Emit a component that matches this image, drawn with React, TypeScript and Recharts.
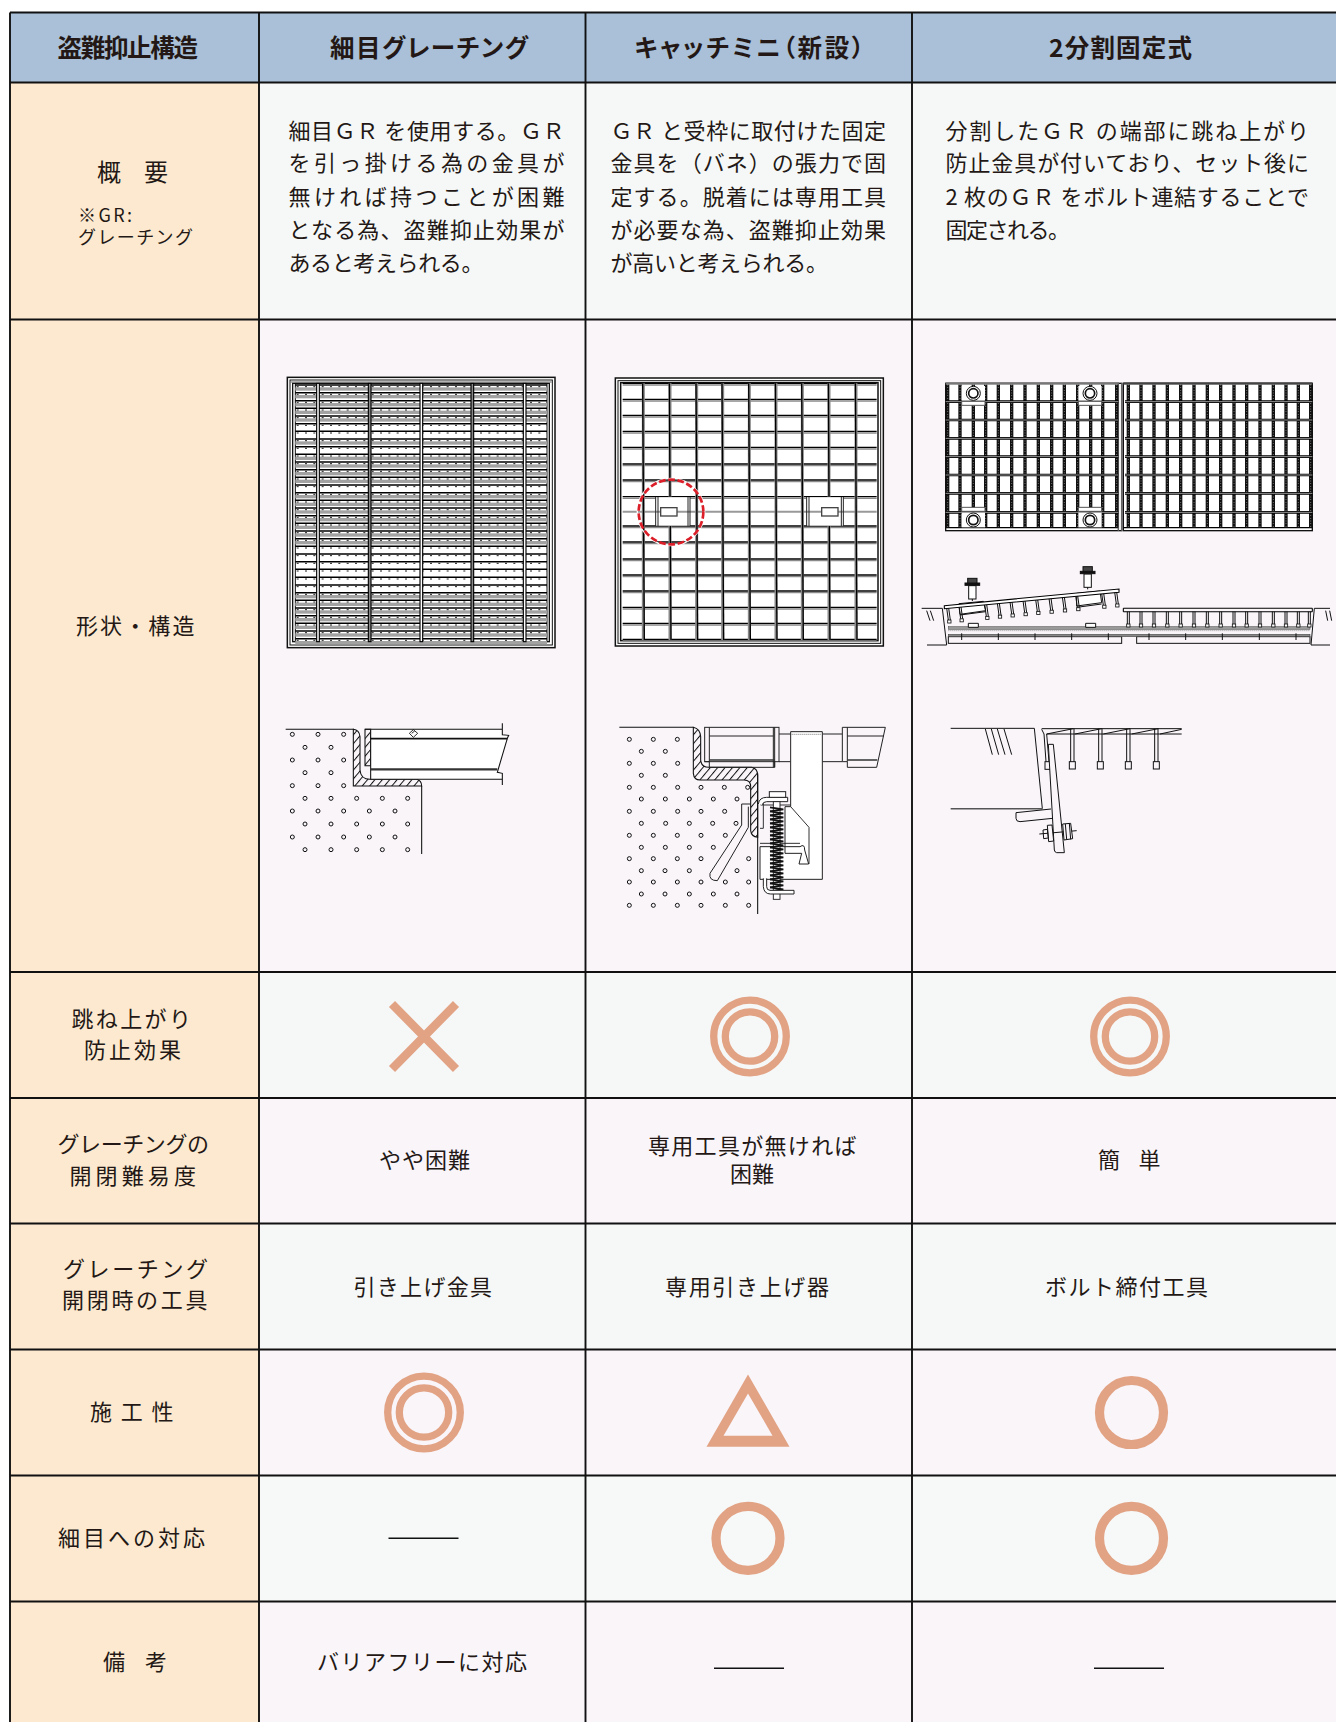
import React from "react";
import { ScatterChart, Scatter, XAxis, YAxis, ReferenceArea, ReferenceLine } from "recharts";

// ---------- content ----------
const headers = ["盗難抑止構造", "細目グレーチング", "キャッチミニ（新設）", "2分割固定式"];
const rowLabels = [
  ["概　要"],
  ["※GR:", "グレーチング"],
  ["形状・構造"],
  ["跳ね上がり", "防止効果"],
  ["グレーチングの", "開閉難易度"],
  ["グレーチング", "開閉時の工具"],
  ["施 工 性"],
  ["細目への対応"],
  ["備　考"],
];
const overviewFine = [
  "細目ＧＲ を使用する。ＧＲ",
  "を引っ掛ける為の金具が",
  "無ければ持つことが困難",
  "となる為、盗難抑止効果が",
  "あると考えられる。",
];
const overviewCatch = [
  "ＧＲ と受枠に取付けた固定",
  "金具を（バネ）の張力で固",
  "定する。脱着には専用工具",
  "が必要な為、盗難抑止効果",
  "が高いと考えられる。",
];
const overviewSplit = [
  "分割したＧＲ の端部に跳ね上がり",
  "防止金具が付いており、セット後に",
  "2 枚のＧＲ をボルト連結することで",
  "固定される。",
];
const openingEase = ["やや困難", "専用工具が無ければ", "困難", "簡　単"];
const openingTool = ["引き上げ金具", "専用引き上げ器", "ボルト締付工具"];
const remark = "バリアフリーに対応";
// grades, one row per criterion, one entry per product
const gradeBounce = ["cross", "double", "double"];
const gradeWork = ["double", "triangle", "circle"];
const gradeFine = ["dash", "circle", "circle"];
const gradeRemark = ["text", "dash", "dash"];

// ---------- layout ----------
const W = 1336;
const H = 1722;
const colEdges = [10, 259, 585.5, 912, 1336];
const rowEdges = [12.5, 82.5, 319.5, 972, 1098, 1223.5, 1349.5, 1475.5, 1601.5, 1722];
const rowFills = ["#F6F8F7", "#F9F5F9", "#F6F8F7", "#F9F5F9", "#F6F8F7", "#F9F5F9", "#F6F9F8", "#F9F5F9"];
const HEAD = "#A9C0D8";
const LABEL = "#FCE9CF";
const INK = "#231815";
const SALMON = "#E2A284";
const FONT = '"Noto Sans CJK JP", "Noto Sans", sans-serif';
const TEXT_LIFT = 2.4;

type T = { x: number; y: number; text: string; left: number; right: number; size: number; weight: number };
const texts: T[] = [];
const put = (text: string, left: number, right: number, y: number, size = 22, weight = 400) =>
  texts.push({ x: (left + right) / 2, y: y - TEXT_LIFT, text, left, right, size, weight });

// headers
put(headers[0], 57.5, 198, 49, 24.5, 700);
put(headers[1], 330, 528, 49, 24.5, 700);
put(headers[2], 634.5, 864, 49, 24.5, 700);
put(headers[3], 1049, 1192, 49, 24.5, 700);
// row labels
put(rowLabels[0][0], 97, 168, 172.5, 24);
put(rowLabels[1][0], 78, 132, 216.5, 18);
put(rowLabels[1][1], 78, 193, 238.5, 18);
put(rowLabels[2][0], 76, 194.5, 626);
put(rowLabels[3][0], 71.5, 191, 1019.5);
put(rowLabels[3][1], 84, 181, 1050);
put(rowLabels[4][0], 57.5, 209, 1144.5);
put(rowLabels[4][1], 69.5, 196, 1176);
put(rowLabels[5][0], 63, 208, 1269.5);
put(rowLabels[5][1], 62, 207.5, 1300);
put(rowLabels[6][0], 90, 173.5, 1412);
put(rowLabels[7][0], 58, 205, 1538);
put(rowLabels[8][0], 103, 167, 1662.5);
// overview paragraphs
const lineY = [131, 163.5, 197, 230, 263.5];
const fineRight = [564.5, 564.5, 564.5, 564.5, 483.5];
overviewFine.forEach((s, i) => put(s, 288.5, fineRight[i], lineY[i]));
const catchRight = [886, 886, 886, 886, 828];
overviewCatch.forEach((s, i) => put(s, 610.5, catchRight[i], lineY[i]));
const splitRight = [1309, 1309, 1309, 1070];
overviewSplit.forEach((s, i) => put(s, 945.5, splitRight[i], lineY[i]));
// lower cells
put(openingEase[0], 379, 470, 1160.5);
put(openingEase[1], 648, 856.5, 1146);
put(openingEase[2], 730, 774, 1174);
put(openingEase[3], 1098, 1160.5, 1160.5);
put(openingTool[0], 353.5, 492, 1287);
put(openingTool[1], 665, 829, 1287);
put(openingTool[2], 1045, 1208, 1287);
put(remark, 317, 527, 1662.5);

const marks = [
  { kind: gradeBounce[0], x: 424, y: 1036.5 },
  { kind: gradeBounce[1], x: 750, y: 1036.5 },
  { kind: gradeBounce[2], x: 1130, y: 1036.5 },
  { kind: gradeWork[0], x: 424, y: 1412.5 },
  { kind: gradeWork[1], x: 748, y: 1412.5 },
  { kind: gradeWork[2], x: 1131.5, y: 1412.5 },
  { kind: gradeFine[0], x: 423.5, y: 1538.3 },
  { kind: gradeFine[1], x: 748, y: 1538.3 },
  { kind: gradeFine[2], x: 1131.5, y: 1538.3 },
  { kind: gradeRemark[1], x: 749, y: 1668.3 },
  { kind: gradeRemark[2], x: 1129, y: 1668.3 },
];

const drawings = [
  { kind: "fine", x: 270, y: 360 },
  { kind: "catch", x: 600, y: 360 },
  { kind: "split", x: 915, y: 370 },
  { kind: "sec1", x: 270, y: 710 },
  { kind: "sec2", x: 610, y: 710 },
  { kind: "sec3", x: 940, y: 710 },
];

// ---------- drawing geometry (units: 1/3 px, relative to each drawing's anchor) ----------
const fineRows = [75, 98, 122, 145, 168, 191, 214, 237, 260, 283, 306, 329, 352, 375, 398, 421, 444, 467, 490, 513, 536, 559, 582, 605, 628, 652, 675, 698, 721, 744, 767, 790, 813, 836];
const fineGrey = [0, 1, 2, 3, 4, 7, 9, 10, 11, 12, 14, 15, 16, 17, 18, 19, 20, 27, 28, 29, 30, 31, 32, 33];
const fineBars = [140, 295, 450, 603, 760];
const catchRows = [70, 118, 166, 214, 262, 312, 360, 410, 498, 546, 597, 645, 693, 742, 790, 838];
const catchBars = [130, 210, 290, 368, 448, 528, 607, 687, 768];
const splitRows = [95, 150, 205, 260, 315, 370, 427];
const splitBarsL = [98, 135, 175, 212, 250, 290, 330, 370, 410, 448, 488, 527, 563, 605];
const splitBarsR = [640, 678, 717, 757, 797, 837, 877, 917, 957, 995, 1035, 1075, 1113, 1150, 1187];
const tiltLegs = [98, 135, 212, 250, 288, 327, 365, 405, 445, 485, 563, 602];
const flatLegs = [640, 678, 717, 757, 797, 837, 877, 917, 957, 995, 1035, 1075, 1113, 1150, 1183];
const railTicks = [140, 250, 360, 470, 580, 702, 812, 922, 1033, 1143];
const sec1Dots: [number, number[]][] = [
  [73, [67, 144, 221]],
  [112, [105, 183]],
  [150, [67, 144, 221]],
  [188, [105, 183]],
  [227, [67, 144, 221]],
  [265, [105, 183, 260, 337, 413]],
  [303, [67, 144, 221, 298, 375]],
  [342, [105, 183, 260, 337, 413]],
  [381, [67, 144, 221, 298, 375]],
  [419, [105, 183, 260, 337, 413]],
];
const sec2Dots: [number, number[]][] = [
  [88, [58, 130, 202]],
  [124, [94, 166]],
  [160, [58, 130, 203]],
  [196, [94, 166]],
  [232, [58, 130, 203, 273, 343, 413]],
  [267, [94, 166, 238, 310, 381]],
  [304, [58, 130, 203, 273, 344]],
  [340, [94, 167, 238, 308, 378]],
  [376, [58, 130, 202, 273, 346]],
  [412, [94, 166, 238, 310]],
  [446, [58, 130, 202, 273, 416]],
  [482, [94, 165, 238, 381]],
  [516, [58, 130, 202, 273, 346, 416]],
  [552, [94, 165, 238, 310, 381]],
  [586, [58, 130, 202, 273, 346, 416]],
];
const springY = [292, 304, 316, 328, 340, 352, 364, 376, 388, 400, 412, 424, 436, 448, 460, 472, 484, 496, 508, 520, 532];
const sec3Legs = [397, 481, 565, 649];

const line = "#111";
const Dots = ({ rows }: { rows: [number, number[]][] }) => (
  <g fill="none" stroke="#111" strokeWidth={3}>
    {rows.map(([y, xs]) => xs.map((x) => <circle key={`${x}-${y}`} cx={x} cy={y} r={6} />))}
  </g>
);
const HatchDef = ({ id }: { id: string }) => (
  <defs>
    <pattern id={id} width={17} height={17} patternUnits="userSpaceOnUse" patternTransform="rotate(40)">
      <line x1={1.5} y1={0} x2={1.5} y2={17} stroke="#111" strokeWidth={3} />
    </pattern>
  </defs>
);

const Fine = () => (
  <g>
    <rect x={52} y={52} width={803} height={811} fill="#fff" stroke={line} strokeWidth={4.5} />
    <rect x={60} y={60} width={787} height={795} fill="none" stroke={line} strokeWidth={3} />
    <rect x={68} y={70} width={770} height={775} fill="none" stroke={line} strokeWidth={4} />
    <rect x={76} y={70} width={755} height={775} fill="none" stroke={line} strokeWidth={3} />
    {fineGrey.map((i) => <rect key={i} x={76} y={fineRows[i] + 7} width={755} height={10} fill="#a2a2a2" />)}
    {fineRows.map((y) => (
      <g key={y}>
        <line x1={76} x2={831} y1={y} y2={y} stroke="#000" strokeWidth={4.4} />
        <line x1={80} x2={831} y1={y + 5} y2={y + 5} stroke="#222" strokeWidth={3} strokeDasharray="6 19" />
      </g>
    ))}
    {fineBars.map((x, i) => (
      <rect key={x} x={x} y={70} width={8} height={775} fill={i % 2 ? "#888" : "#fff"} stroke="#000" strokeWidth={3.4} />
    ))}
    <line x1={62} x2={845} y1={66} y2={66} stroke="#666" strokeWidth={3} />
  </g>
);

const Catch = () => (
  <g>
    <rect x={46} y={54} width={804} height={804} fill="#fff" stroke={line} strokeWidth={4.5} />
    <rect x={54} y={62} width={788} height={788} fill="none" stroke={line} strokeWidth={3} />
    <rect x={62} y={68} width={772} height={774} fill="none" stroke={line} strokeWidth={4.5} />
    {catchRows.map((y) => (
      <g key={y}>
        <line x1={68} x2={830} y1={y + 5} y2={y + 5} stroke="#8a8a8a" strokeWidth={4} />
        <line x1={68} x2={830} y1={y} y2={y} stroke="#000" strokeWidth={4} />
      </g>
    ))}
    <line x1={68} x2={830} y1={455} y2={455} stroke="#999" strokeWidth={6} />
    {catchBars.map((x) => {
      const gap = x === 210 || x === 687;
      return (
        <g key={x}>
          {gap ? (
            <>
              <path d={`M${x},70 V410 M${x},498 V840`} stroke="#888" strokeWidth={9} />
              <path d={`M${x - 2},70 L${x},410 M${x + 1},498 L${x + 3},840`} stroke="#000" strokeWidth={4} />
            </>
          ) : (
            <>
              <line x1={x} x2={x} y1={70} y2={840} stroke="#888" strokeWidth={9} />
              <line x1={x - 2} x2={x + 3} y1={70} y2={840} stroke="#000" strokeWidth={4} />
            </>
          )}
        </g>
      );
    })}
    {[{ l: 167, r: 270, s: 182 }, { l: 620, r: 730, s: 665 }].map(({ l, r, s }) => (
      <g key={l}>
        <rect x={l} y={412} width={r - l} height={85} fill="#fff" />
        <line x1={l} x2={r} y1={455} y2={455} stroke="#999" strokeWidth={6} />
        <path d={`M${l},411 V498 M${l + 7},411 V498 M${r - 6},411 V498 M${r},411 V498`} stroke="#222" strokeWidth={3} />
        <rect x={s} y={443} width={49} height={25} fill="#fff" stroke="#444" strokeWidth={4} />
      </g>
    ))}
    <circle cx={213} cy={456} r={101} fill="none" stroke="#fff" strokeWidth={4} />
    <circle cx={213} cy={456} r={97} fill="none" stroke="#DC1E28" strokeWidth={8} strokeDasharray="20 8" />
  </g>
);

const Bolt = ({ cx, top }: { cx: number; top: number }) => (
  <g stroke="#111" fill="#fff" strokeWidth={3}>
    <rect x={cx - 11} y={top + 22} width={22} height={40} />
    <line x1={cx} x2={cx} y1={top + 62} y2={top + 68} />
    <rect x={cx - 14} y={top} width={28} height={16} fill="#444" />
    <rect x={cx - 22} y={top + 14} width={44} height={7} fill="#111" />
  </g>
);

const Split = () => {
  const tilt = (x: number) => 707 - 0.0954 * (x - 88);
  return (
    <g>
      {/* plan */}
      <rect x={92} y={40} width={528} height={442} fill="#fff" stroke={line} strokeWidth={4} />
      <rect x={625} y={40} width={567} height={442} fill="#fff" stroke={line} strokeWidth={4} />
      <rect x={92} y={37} width={520} height={7} fill="#777" />
      <rect x={625} y={37} width={567} height={7} fill="#444" />
      <path d="M92,473 H610 M625,473 H1192" stroke="#000" strokeWidth={3.5} />
      <path d="M610,40 V482 M620,40 V482" stroke="#666" strokeWidth={4.5} />
      {splitBarsL.concat(splitBarsR).map((x) => (
        <g key={x}>
          <line x1={x} x2={x} y1={44} y2={473} stroke="#111" strokeWidth={10} />
          <line x1={x} x2={x} y1={44} y2={473} stroke="#fff" strokeWidth={1.8} strokeDasharray="2 6" />
        </g>
      ))}
      {splitRows.map((y) => (
        <g key={y}>
          <path d={`M92,${y} H610 M630,${y} H1192`} stroke="#000" strokeWidth={8} />
          <path d={`M92,${y} H610 M630,${y} H1192`} stroke="#fff" strokeWidth={1.8} />
        </g>
      ))}
      {[{ x: 175, y: 70, b: 100 }, { x: 525, y: 70, b: 100 }, { x: 175, y: 450, b: 418 }, { x: 525, y: 450, b: 418 }].map((p) => (
        <g key={`${p.x}${p.y}`}>
          <rect x={p.x - 35} y={p.y - 22} width={70} height={44} fill="#fff" />
          <rect x={p.x - 35} y={p.b - 6} width={70} height={12} fill="#fff" stroke="#555" strokeWidth={3} />
          <circle cx={p.x} cy={p.y} r={21} fill="#fff" stroke="#111" strokeWidth={3} />
          <circle cx={p.x} cy={p.y} r={14} fill="#fff" stroke="#111" strokeWidth={5} />
        </g>
      ))}
      {/* elevation */}
      <g fill="none" stroke="#111" strokeWidth={3}>
        <path d="M20,715 H82 L95,825 H36 M35,722 L45,752 M46,722 L56,752" />
        <path d="M1245,715 H1198 L1188,825 H1245 M1232,722 L1238,752 M1244,722 L1250,752" />
        <rect x={100} y={800} width={520} height={20} />
        <rect x={665} y={800} width={520} height={20} />
      </g>
      <rect x={100} y={770} width={1085} height={8} fill="#999" stroke="#444" strokeWidth={1.5} />
      <rect x={100} y={793} width={1085} height={7} fill="#888" stroke="#333" strokeWidth={1.5} />
      <path d="M100,782 H1185" stroke="#666" strokeWidth={2} strokeDasharray="3 3" />
      {railTicks.map((x) => <line key={x} x1={x} x2={x} y1={790} y2={810} stroke="#111" strokeWidth={3} />)}
      <path d="M160,760 H190 V772 H160 Z M512,760 H542 V772 H512 Z" fill="#fff" stroke="#111" strokeWidth={3} />
      {flatLegs.map((x) => (
        <g key={x}>
          <path d={`M${x - 3},725 V762 M${x + 3},725 V762`} stroke="#111" strokeWidth={3} />
          <rect x={x - 5} y={762} width={10} height={9} fill="#fff" stroke="#111" strokeWidth={2.5} />
        </g>
      ))}
      <path d="M625,715 H1192 M625,725 H1192 M1192,715 V725 M625,715 V725" stroke="#000" strokeWidth={3.2} fill="none" />
      <path d="M132,701 L205,694 L212,722 L135,733 Z M485,670 L555,663 L560,698 L485,708 Z" fill="#fff" stroke="#111" strokeWidth={3} />
      <path d="M135,735 L212,725 M485,712 L560,702" stroke="#111" strokeWidth={3} />
      {tiltLegs.map((x) => {
        const t = tilt(x) + 8;
        return (
          <g key={x}>
            <path d={`M${x - 3},${t} L${x + 2},${t + 36} M${x + 3},${t} L${x + 8},${t + 36}`} stroke="#111" strokeWidth={3} />
            <rect x={x} y={t + 36} width={10} height={9} fill="#fff" stroke="#111" strokeWidth={2.5} />
          </g>
        );
      })}
      <path d={`M88,707 L612,${tilt(612)} L612,${tilt(612) + 10} L88,${707 + 9} Z`} fill="#fff" stroke="#000" strokeWidth={3.2} />
      <Bolt cx={172} top={625} />
      <Bolt cx={518} top={590} />
    </g>
  );
};

const Sec1 = () => (
  <g>
    <HatchDef id="h1" />
    <Dots rows={sec1Dots} />
    <path d="M250,58 Q268,60 270,80 V180 Q272,208 300,208 H440 Q455,212 455,228 H250 Z" fill="url(#h1)" stroke="#111" strokeWidth={3.2} />
    <path d="M285,58 H302 V167 H285 Z" fill="url(#h1)" stroke="#111" strokeWidth={3.2} />
    <path d="M302,58 H697 V74 H716 L712,85 L680,187 H697 V208 H302 Z" fill="#fff" />
    <g fill="none" stroke="#111" strokeWidth={3.2}>
      <path d="M47,58 H252 M455,228 V432 M285,58 H697 M302,58 V208 H697 M697,40 V74 L716,76 L712,85 L682,187 L697,190 V225" />
      <path d="M418,70 L430,59 L443,70 L430,82 Z M425,70 L434,63" strokeWidth={2.6} />
    </g>
    <path d="M302,86 H712" stroke="#111" strokeWidth={5} />
    <path d="M302,178 H682" stroke="#333" strokeWidth={7} />
  </g>
);

const Sec2 = () => (
  <g>
    <HatchDef id="h2" />
    <Dots rows={sec2Dots} />
    <path d="M250,52 Q270,56 272,80 V150 Q274,172 296,172 H425 Q443,176 443,196 V382 Q424,380 422,362 V230 Q422,210 402,210 H270 Q252,210 250,190 Z" fill="url(#h2)" stroke="#111" strokeWidth={3.2} />
    <path d="M28,52 H250 M443,190 V612" fill="none" stroke="#111" strokeWidth={3.2} />
    <path d="M395,282 H422 M395,282 V345 L300,490 Q296,512 322,512 L415,352 V290" fill="none" stroke="#222" strokeWidth={3} />
    <g fill="none" stroke="#222" strokeWidth={3}>
      <path d="M507,72 H542 M507,155 H542 M637,72 H697 M637,155 H697" />
      <rect x={284} y={52} width={223} height={103} fill="#F9F5F9" />
      <path d="M284,155 H298 V172 H494 V155" />
      <path d="M697,52 H826 L800,172 H712 V155 H697 Z" fill="#F9F5F9" />
      <path d="M298,52 V155 M490,52 V172 M712,52 V155 M712,78 H822 M298,78 H490 M494,52 V172" />
    </g>
    <path d="M298,150 H494 M712,150 H802" stroke="#333" strokeWidth={5} />
    <path d="M542,65 H637 V508 H450 V410 H570 Q584,400 584,420 L596,462 H567 L575,430 H525 V290 H542 Z" fill="#fff" stroke="#222" strokeWidth={3} />
    <path d="M542,290 L597,352 V462 M450,400 H570" fill="none" stroke="#222" strokeWidth={2.8} />
    <path d="M545,73 H635" fill="none" stroke="#777" strokeWidth={3} strokeDasharray="3 3" />
    <path d="M452,285 H542 M450,282 H460 V355 H450" fill="none" stroke="#333" strokeWidth={3} />
    <path d="M445,282 Q448,262 470,262 H533 V275 H470 Q458,275 458,285" fill="#fff" stroke="#222" strokeWidth={3} />
    <rect x={478} y={245} width={49} height={17} fill="#fff" stroke="#222" strokeWidth={3} />
    <rect x={490} y={275} width={20} height={293} fill="#fff" stroke="#222" strokeWidth={2.8} />
    {springY.map((y) => (
      <path key={y} d={`M480,${y} L520,${y + 6} L480,${y + 12}`} fill="none" stroke="#111" strokeWidth={5} />
    ))}
    <path d="M460,505 V530 Q462,552 482,552 H552 V541 H480 Q470,541 470,530 V505" fill="#fff" stroke="#222" strokeWidth={3} />
  </g>
);

const Sec3 = () => (
  <g fill="none" stroke="#111" strokeWidth={3}>
    <path d="M32,55 H283 L307,296 M136,57 L157,134 M154,57 L176,134 M172,57 L195,134 M192,57 L215,134" />
    <path d="M32,296 H307" stroke="#555" strokeWidth={4.5} />
    <path d="M305,56 H725 M320,72 H725 M320,72 L400,56 M405,72 L485,56 M490,72 L570,56 M575,72 L655,56 M660,72 L725,58" />
    <path d="M305,58 L312,72 L318,155 M320,72 L327,155" />
    <rect x={315} y={155} width={17} height={23} />
    {sec3Legs.map((x) => (
      <g key={x}>
        <path d={`M${x - 5},72 V155 M${x + 5},72 V155 M${x - 5},56 V72 M${x + 5},56 V72`} />
        <rect x={x - 9} y={155} width={18} height={22} />
      </g>
    ))}
    <path d="M325,103 H340 L373,428 H350 Q345,428 343,420 Z" fill="#F9F5F9" />
    <path d="M228,308 L333,297 M228,308 V325 Q228,335 240,335 L338,325" />
    <path d="M298,372 L410,362" />
    <path d="M368,342 L392,340 L398,386 L372,390 Z M376,342 L380,388 M388,340 L392,388" fill="#F9F5F9" />
    <path d="M322,346 L336,345 L341,393 L326,395 Z" fill="#F9F5F9" />
    <path d="M309,360 L322,358 L325,384 L311,386 Z" />
  </g>
);

const DRAW: Record<string, React.FC> = { fine: Fine, catch: Catch, split: Split, sec1: Sec1, sec2: Sec2, sec3: Sec3 };

// ---------- scatter shapes ----------
const TextShape = (p: any) => {
  const d: T = p.payload;
  return (
    <text
      x={d.left}
      y={p.cy}
      textLength={d.right - d.left}
      lengthAdjust="spacing"
      dominantBaseline="central"
      fontFamily={FONT}
      fontSize={d.size}
      fontWeight={d.weight}
      fill={INK}
      style={d.weight === 700 ? { fontFeatureSettings: '"palt"' } : undefined}
    >
      {d.text}
    </text>
  );
};
const MarkShape = (p: any) => {
  const { cx, cy } = p;
  const k = p.payload.kind;
  if (k === "cross")
    return (
      <path
        d={`M${cx - 32},${cy - 32.5} L${cx + 32},${cy + 32.5} M${cx + 32},${cy - 32.5} L${cx - 32},${cy + 32.5}`}
        stroke={SALMON}
        strokeWidth={8.5}
        fill="none"
      />
    );
  if (k === "double")
    return (
      <g fill="none" stroke={SALMON} strokeWidth={7.3}>
        <circle cx={cx} cy={cy} r={36.3} />
        <circle cx={cx} cy={cy} r={24.7} />
      </g>
    );
  if (k === "circle") return <circle cx={cx} cy={cy} r={32} fill="none" stroke={SALMON} strokeWidth={9.2} />;
  if (k === "triangle")
    return (
      <path
        fillRule="evenodd"
        fill={SALMON}
        d={`M${cx},${cy - 38} L${cx + 41.5},${cy + 34.2} H${cx - 41.5} Z M${cx},${cy - 19} L${cx - 24.5},${cy + 23.2} H${cx + 24.5} Z`}
      />
    );
  if (k === "dash") return <line x1={cx - 35} x2={cx + 35} y1={cy} y2={cy} stroke="#111" strokeWidth={1.6} />;
  return <g />;
};
const DrawingShape = (p: any) => {
  const C = DRAW[p.payload.kind];
  return (
    <g transform={`translate(${p.cx},${p.cy}) scale(${1 / 3})`}>
      <C />
    </g>
  );
};

const gridStroke = "#111";

export default function App() {
  const visibleMarks = marks.filter((m) => m.kind !== "text");
  return (
    <div style={{ position: "absolute", left: 0, top: 0, width: W, height: H, background: "#fff" }}>
      <ScatterChart width={W} height={H} margin={{ top: 0, right: 0, bottom: 0, left: 0 }}>
        <XAxis type="number" dataKey="x" domain={[0, W]} hide allowDataOverflow />
        <YAxis type="number" dataKey="y" domain={[0, H]} reversed hide allowDataOverflow />
        {colEdges.slice(0, -1).map((x, i) => (
          <ReferenceArea key={`h${i}`} x1={x} x2={colEdges[i + 1]} y1={rowEdges[0]} y2={rowEdges[1]} fill={HEAD} fillOpacity={1} stroke="none" />
        ))}
        {rowEdges.slice(1, -1).map((y, r) => (
          <ReferenceArea key={`l${r}`} x1={colEdges[0]} x2={colEdges[1]} y1={y} y2={rowEdges[r + 2]} fill={LABEL} fillOpacity={1} stroke="none" />
        ))}
        {rowEdges.slice(1, -1).map((y, r) => (
          <ReferenceArea key={`c${r}`} x1={colEdges[1]} x2={W} y1={y} y2={rowEdges[r + 2]} fill={rowFills[r]} fillOpacity={1} stroke="none" />
        ))}
        {rowEdges.slice(0, -1).map((y) => (
          <ReferenceLine key={`y${y}`} segment={[{ x: colEdges[0], y }, { x: W, y }]} stroke={gridStroke} strokeWidth={1.9} />
        ))}
        {colEdges.slice(0, -1).map((x) => (
          <ReferenceLine key={`x${x}`} segment={[{ x, y: rowEdges[0] }, { x, y: H }]} stroke={gridStroke} strokeWidth={1.9} />
        ))}
        <Scatter data={drawings} shape={DrawingShape} isAnimationActive={false} />
        <Scatter data={visibleMarks} shape={MarkShape} isAnimationActive={false} />
        <Scatter data={texts} shape={TextShape} isAnimationActive={false} />
      </ScatterChart>
    </div>
  );
}
